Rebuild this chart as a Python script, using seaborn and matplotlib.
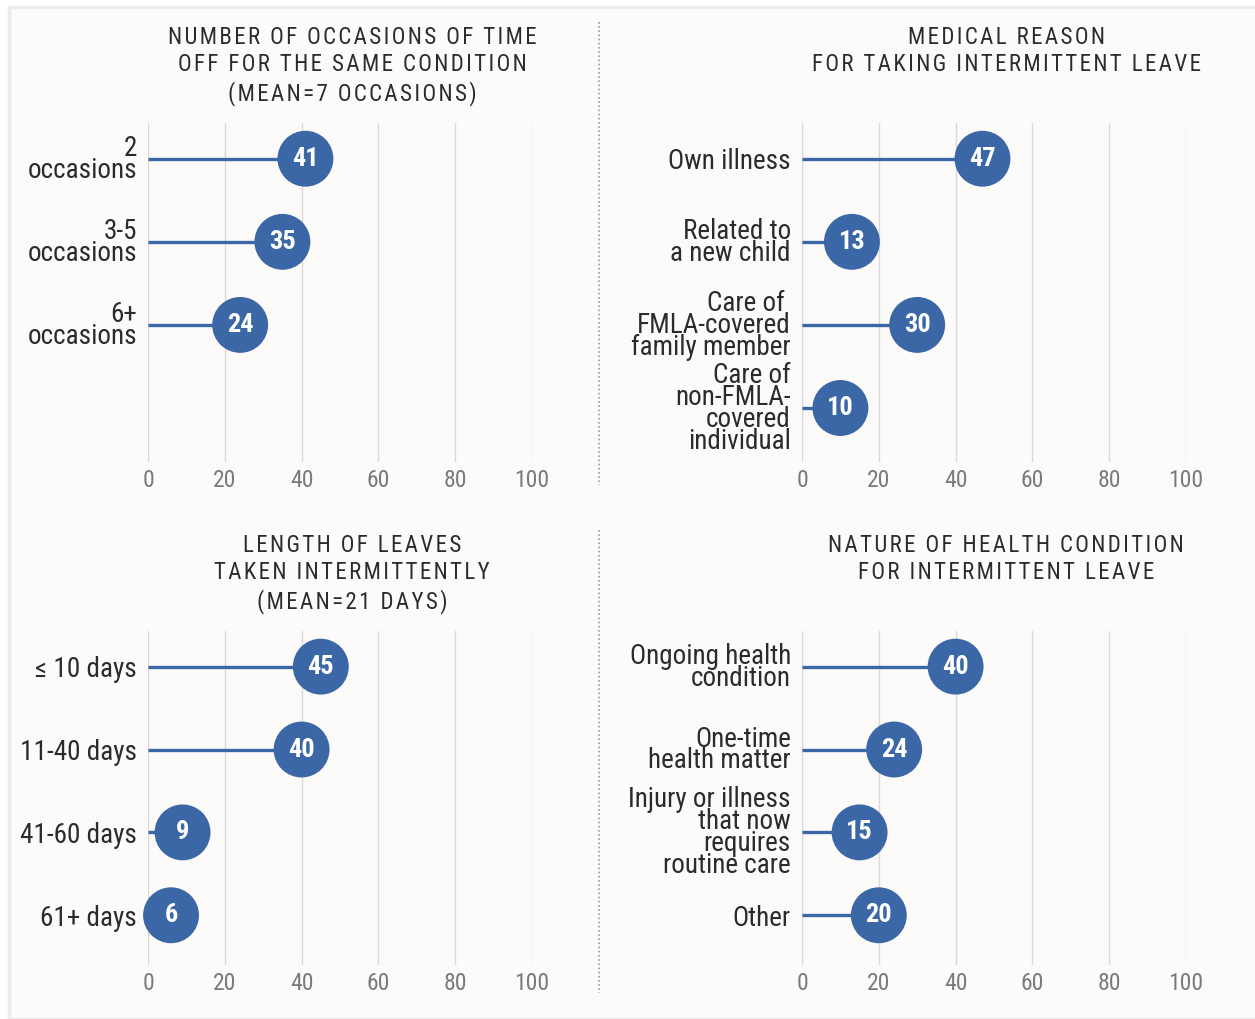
from matplotlib import font_manager as fm
from matplotlib import pyplot as plt
import matplotlib.patches as mpatches
import numpy as np
import pandas as pd
import seaborn as sns

OUTPUT_PNG = "out.png"

# data
occasion_labels = ["2\noccasions", "3-5\noccasions", "6+\noccasions"]
occasion_values = [41, 35, 24]

reason_labels = [
    "Own illness",
    "Related to\na new child",
    "Care of \nFMLA-covered\nfamily member",
    "Care of\nnon-FMLA-\ncovered\nindividual",
]
reason_values = [47, 13, 30, 10]

length_labels = ["\u2264 10 days", "11-40 days", "41-60 days", "61+ days"]
length_values = [45, 40, 9, 6]

nature_labels = [
    "Ongoing health\ncondition",
    "One-time\nhealth matter",
    "Injury or illness\nthat now\nrequires\nroutine care",
    "Other",
]
nature_values = [40, 24, 15, 20]

titles = [
    "NUMBER OF OCCASIONS OF TIME\nOFF FOR THE SAME CONDITION\n(MEAN=7 OCCASIONS)",
    "MEDICAL REASON\nFOR TAKING INTERMITTENT LEAVE",
    "LENGTH OF LEAVES\nTAKEN INTERMITTENTLY\n(MEAN=21 DAYS)",
    "NATURE OF HEALTH CONDITION\nFOR INTERMITTENT LEAVE",
]
x_ticks = [0, 20, 40, 60, 80, 100]

BLUE = "#3b67a6"
GRID = "#d9d9d9"
TEXT = "#2b2b2b"
TICK = "#7a7a7a"

W, H = 1255, 1019


def pick_font(candidates):
    names = {f.name for f in fm.fontManager.ttflist}
    for name in candidates:
        if name in names:
            return name
    return "DejaVu Sans"


def spaced(text):
    # fake letter tracking for the caps titles
    return "\n".join("\u200a".join(line) for line in text.split("\n"))


def draw_panel(fig, rect, labels, values, font, ylim):
    ax = fig.add_axes(rect, zorder=2)
    df = pd.DataFrame({"pos": np.arange(len(values)), "value": values, "label": labels})

    ax.hlines(df["pos"], 0, df["value"], color=BLUE, linewidth=2.4, zorder=2)
    sns.scatterplot(data=df, x="value", y="pos", s=1620, color=BLUE, edgecolor="none", ax=ax, zorder=3, legend=False)
    for _, row in df.iterrows():
        ax.text(row["value"], row["pos"], f"{row['value']}", ha="center", va="center",
                color="white", fontsize=19, fontweight="bold", family=font, zorder=4)

    ax.set_xlim(0, 100)
    ax.set_ylim(*ylim)
    ax.set_xticks(x_ticks)
    ax.set_xticklabels([str(t) for t in x_ticks], family=font, fontsize=17, color=TICK)
    ax.set_yticks(df["pos"])
    ax.set_yticklabels(labels, family=font, fontsize=19.5, color=TEXT, linespacing=0.76)
    ax.tick_params(axis="both", length=0)
    ax.tick_params(axis="y", pad=8)
    ax.tick_params(axis="x", pad=5)
    ax.grid(axis="x", color=GRID, linewidth=1.0, zorder=0)
    ax.grid(axis="y", visible=False)
    ax.set_axisbelow(True)
    ax.set_xlabel("")
    ax.set_ylabel("")
    for spine in ax.spines.values():
        spine.set_visible(False)
    ax.set_facecolor("none")
    for coll in ax.collections:
        coll.set_clip_on(False)
    return ax


def main() -> None:
    sns.set_theme(style="white")
    font = pick_font(["Roboto Condensed", "Liberation Sans Narrow", "Roboto"])
    plt.rcParams["font.family"] = [font, "DejaVu Sans"]

    fig = plt.figure(figsize=(W / 100, H / 100), dpi=100, facecolor="white")
    fig.patches.append(mpatches.Rectangle((9 / W, 0), 1, (H - 7) / H, transform=fig.transFigure,
                                          facecolor="#fcfbf9", edgecolor="#ececec", linewidth=2.5, zorder=-5))

    def rect(x0, top, x1, bottom):
        return [x0 / W, 1 - bottom / H, (x1 - x0) / W, (bottom - top) / H]

    top_ylim = (3.65, -0.43)
    bot_ylim = (3.6, -0.43)
    draw_panel(fig, rect(148, 123, 532, 462), occasion_labels, occasion_values, font, top_ylim)
    draw_panel(fig, rect(802, 123, 1186, 462), reason_labels, reason_values, font, top_ylim)
    draw_panel(fig, rect(148, 631, 532, 965), length_labels, length_values, font, bot_ylim)
    draw_panel(fig, rect(802, 631, 1186, 965), nature_labels, nature_values, font, bot_ylim)

    title_pos = [(352, 26), (1006, 26), (352, 534), (1006, 534)]
    for (tx, ty), title in zip(title_pos, titles):
        fig.text(tx / W, 1 - ty / H, spaced(title), ha="center", va="top", fontsize=16.5,
                 color=TEXT, family=[font, "DejaVu Sans"], linespacing=1.24)

    for y0, y1 in [(22, 485), (530, 993)]:
        fig.add_artist(plt.Line2D([599 / W, 599 / W], [1 - y0 / H, 1 - y1 / H], transform=fig.transFigure,
                                  color="#9a9a9a", linestyle=(0, (1, 1.5)), linewidth=1.2))

    fig.savefig(OUTPUT_PNG, dpi=100, facecolor=fig.get_facecolor())
    plt.close(fig)


if __name__ == "__main__":
    main()
